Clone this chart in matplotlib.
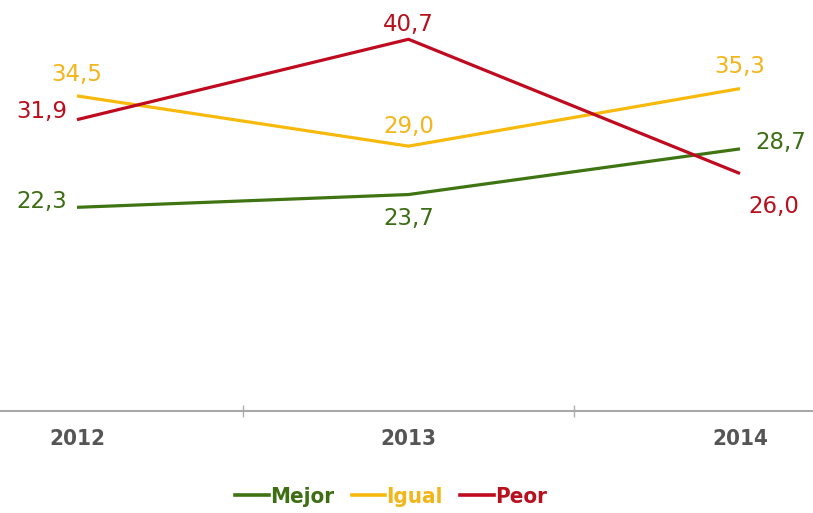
import matplotlib
matplotlib.use("Agg")
import matplotlib.pyplot as plt
from matplotlib.lines import Line2D

years = ["2012", "2013", "2014"]
mejor = [22.3, 23.7, 28.7]
igual = [34.5, 29.0, 35.3]
peor = [31.9, 40.7, 26.0]
series_names = ["Mejor", "Igual", "Peor"]

line_colors = ["#3f7412", "#f7b90c", "#c00a1f"]
text_colors = ["#3d6e14", "#f2b51a", "#b8101d"]

fig = plt.figure(figsize=(8.13, 5.13), dpi=100)
ax = fig.add_axes([0, (513 - 411) / 513, 1, 411 / 513])
ax.set_ylim(0, 45)
ppu = 331.5
ax.set_xlim(-77 / ppu, 2 + (813 - 740) / ppu)

x = list(range(len(years)))
all_series = [mejor, igual, peor]
for vals, c in zip(all_series, line_colors):
    ax.plot(x, vals, color=c, lw=2.3, solid_capstyle="butt", zorder=3)

# label offsets in pixels (dx, dy, ha)
offsets = [
    [(-10, 6, "right"), (0, -24, "center"), (15, 6, "left")],
    [(0, 21, "center"), (0, 20, "center"), (0, 22, "center")],
    [(-10, 8, "right"), (0, 15, "center"), (8, -33, "left")],
]
for vals, tc, offs in zip(all_series, text_colors, offsets):
    for xi, v, (dx, dy, ha) in zip(x, vals, offs):
        ax.annotate(f"{v:.1f}".replace(".", ","), (xi, v),
                    xytext=(dx * 0.72, dy * 0.72), textcoords="offset points",
                    ha=ha, va="center", color=tc, fontsize=16.5,
                    family="DejaVu Sans", zorder=4)

for s in ["top", "right", "left"]:
    ax.spines[s].set_visible(False)
ax.spines["bottom"].set_color("#a8a8a8")
ax.spines["bottom"].set_linewidth(1.5)
ax.set_yticks([])
ax.set_xticks(x)
ax.set_xticklabels(years, family="DejaVu Sans", stretch="condensed", fontweight="bold",
                   fontsize=16, color="#555555")
ax.tick_params(axis="x", which="major", length=0, pad=13)
ax.set_xticks([0.5, 1.5], minor=True)
ax.tick_params(axis="x", which="minor", length=9, direction="inout", color="#b0b0b0", width=1)

handles = [Line2D([0], [0], color=c, lw=2.6) for c in line_colors]
leg = fig.legend(handles, series_names, loc="center", bbox_to_anchor=(391 / 813, 1 - 497 / 513),
                 ncol=3, frameon=False, handlelength=1.5, handletextpad=0.05, columnspacing=0.8,
                 prop={"family": "DejaVu Sans", "stretch": "condensed", "weight": "bold", "size": 16})
for t, tc in zip(leg.get_texts(), text_colors):
    t.set_color(tc)

fig.savefig("out.png", dpi=100)
